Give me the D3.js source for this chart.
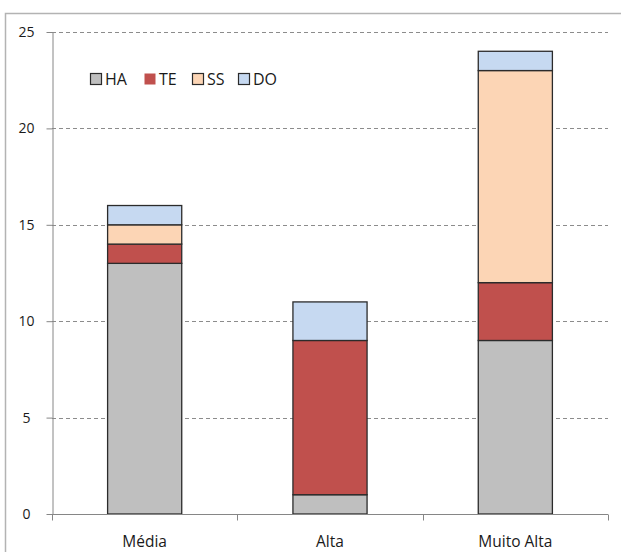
<!DOCTYPE html>
<html>
<head>
<meta charset="utf-8">
<script src="https://cdn.jsdelivr.net/npm/d3@7"></script>
<style>
  body { margin: 0; background: white; }
  text { font-family: "Open Sans", "Liberation Sans", Arial, sans-serif; fill: #1a1a1a; }
</style>
</head>
<body>
<div id="chart"></div>
<script>
// Data
let categories = ["Média", "Alta", "Muito Alta"];
let seriesNames = ["HA", "TE", "SS", "DO"];
let HA = [13, 1, 9];
let TE = [1, 8, 3];
let SS = [1, 0, 11];
let DO = [1, 2, 1];
let yTicks = [0, 5, 10, 15, 20, 25];
let colors = ["#bfbfbf", "#c0504d", "#fcd5b5", "#c6d9f1"];

let w = 621;
let h = 552;
let plotLeft = 52, plotRight = 608, plotTop = 32, plotBottom = 514;

let svg = d3.select("#chart")
  .append("svg")
  .attr("width", w)
  .attr("height", h);

// outer frame
svg.append("path")
  .attr("d", `M5.5,${h} V13.5 H${w}`)
  .attr("fill", "none")
  .attr("stroke", "#b3b3b3")
  .attr("stroke-width", 1.5);

let x = d3.scaleBand().domain(categories).range([plotLeft, plotRight]).paddingInner(0.6).paddingOuter(0.3);
let xBound = d3.scaleBand().domain(categories).range([plotLeft, plotRight]);
let y = d3.scaleLinear().domain([0, 25]).range([plotBottom, plotTop]);

// gridlines
svg.append("g")
  .selectAll("line")
  .data(yTicks.filter(d => d > 0))
  .join("line")
  .attr("x1", plotLeft)
  .attr("x2", plotRight)
  .attr("y1", d => Math.round(y(d)) + 0.5)
  .attr("y2", d => Math.round(y(d)) + 0.5)
  .attr("stroke", "#8c8c8c")
  .attr("stroke-dasharray", "4,3");

// stacked data
let table = categories.map((c, i) => ({cat: c, HA: HA[i], TE: TE[i], SS: SS[i], DO: DO[i]}));
let stacked = d3.stack().keys(seriesNames)(table);

svg.append("g")
  .selectAll("g")
  .data(stacked)
  .join("g")
  .attr("fill", (d, i) => colors[i])
  .selectAll("rect")
  .data(d => d.filter(p => p[1] - p[0] > 0))
  .join("rect")
  .attr("x", d => x(d.data.cat))
  .attr("width", x.bandwidth())
  .attr("y", d => y(d[1]))
  .attr("height", d => y(d[0]) - y(d[1]))
  .attr("stroke", "#2b2b2b")
  .attr("stroke-width", 1.3);

// y axis
let yAxis = svg.append("g")
  .attr("transform", `translate(${plotLeft + 0.5},0)`)
  .call(d3.axisLeft(y).tickValues(yTicks).tickSize(6).tickSizeOuter(0));
yAxis.select(".domain").attr("stroke", "#868686");
yAxis.selectAll(".tick line").attr("stroke", "#868686");
yAxis.selectAll("text").attr("font-size", 14).attr("x", -26).attr("text-anchor", "middle");

// x axis
let xAxisG = svg.append("g").attr("transform", `translate(0,${plotBottom + 0.5})`);
xAxisG.append("line")
  .attr("x1", plotLeft).attr("x2", plotRight)
  .attr("stroke", "#868686");
xAxisG.selectAll("line.tk")
  .data(categories.map(c => xBound(c)).concat([plotRight]))
  .join("line")
  .attr("class", "tk")
  .attr("x1", d => Math.round(d) + 0.5)
  .attr("x2", d => Math.round(d) + 0.5)
  .attr("y1", 0)
  .attr("y2", 6)
  .attr("stroke", "#868686");
xAxisG.selectAll("text")
  .data(categories)
  .join("text")
  .attr("x", d => xBound(d) + xBound.bandwidth() / 2)
  .attr("y", 32)
  .attr("text-anchor", "middle")
  .attr("font-size", 15.5)
  .text(d => d);

// legend
let legendX = [90, 144, 192, 238];
let legend = svg.append("g")
  .selectAll("g")
  .data(seriesNames)
  .join("g")
  .attr("transform", (d, i) => `translate(${legendX[i]},72)`);
legend.append("rect")
  .attr("x", 0.5).attr("y", 1.5)
  .attr("width", 11).attr("height", 11)
  .attr("fill", (d, i) => colors[i])
  .attr("stroke", (d, i) => i == 1 ? "none" : "#2b2b2b")
  .attr("stroke-width", 1.2);
legend.append("text")
  .attr("x", 15)
  .attr("y", 13)
  .attr("font-size", 16)
  .text(d => d);
</script>
</body>
</html>
